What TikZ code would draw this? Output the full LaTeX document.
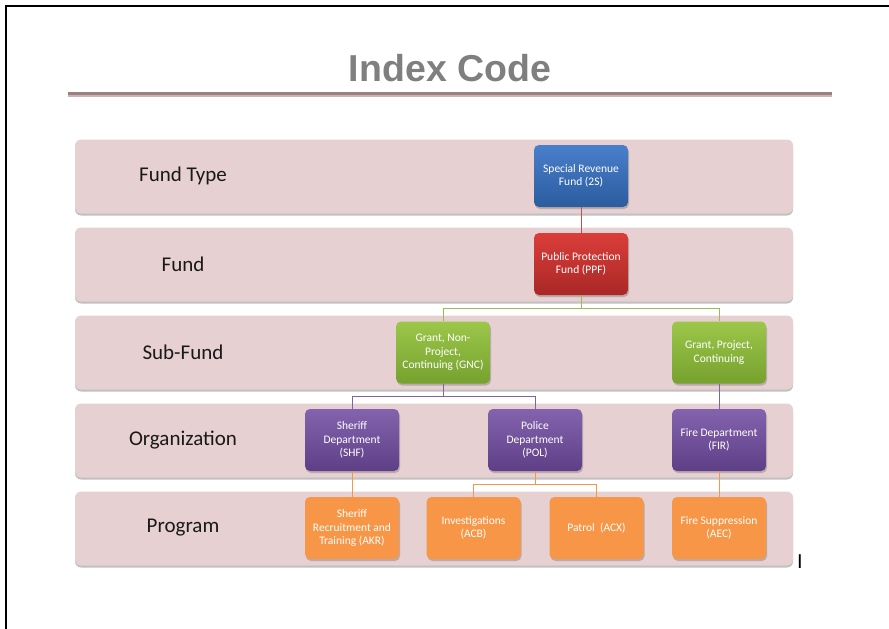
\documentclass[tikz,border=0pt]{standalone}
\usepackage{fontspec}
\setmainfont{Carlito}
\newfontfamily\titlefont{Liberation Sans}
\usetikzlibrary{shadows}
\definecolor{bandfill}{HTML}{E6D0D1}
\definecolor{titlegray}{HTML}{7F7F7F}
\definecolor{rulea}{HTML}{9C7F80}
\definecolor{ruleb}{HTML}{C9B3B4}
\definecolor{bluetop}{HTML}{4A7FCB}
\definecolor{bluebot}{HTML}{2A5C9E}
\definecolor{redtop}{HTML}{DA3E3A}
\definecolor{redbot}{HTML}{A92826}
\definecolor{greentop}{HTML}{9CC74A}
\definecolor{greenbot}{HTML}{76A12E}
\definecolor{purptop}{HTML}{8463AE}
\definecolor{purpbot}{HTML}{5E3F86}
\definecolor{orangefill}{HTML}{F79646}
\definecolor{redline}{HTML}{C0504D}
\definecolor{greenline}{HTML}{9BBB59}
\definecolor{purpline}{HTML}{8064A2}
\definecolor{orangeline}{HTML}{F79646}
\tikzset{
  band/.style={draw=none, fill=bandfill, rounded corners=6pt, minimum width=718pt, minimum height=74pt, inner sep=0pt,
    drop shadow={shadow xshift=0pt, shadow yshift=-2pt, opacity=0.45, fill=black!55}},
  rowlabel/.style={font=\fontsize{21}{24}\selectfont, text=black!90, inner sep=0pt},
  box/.style={rounded corners=5pt, minimum width=94pt, minimum height=62pt, inner sep=1pt, align=center,
    text=white, font=\fontsize{11.5}{13.5}\selectfont,
    drop shadow={shadow xshift=1pt, shadow yshift=-2pt, opacity=0.35, fill=black!60}},
  bluebox/.style={box, top color=bluetop, bottom color=bluebot},
  redbox/.style={box, top color=redtop, bottom color=redbot},
  greenbox/.style={box, top color=greentop, bottom color=greenbot},
  purpbox/.style={box, top color=purptop, bottom color=purpbot},
  orangebox/.style={box, fill=orangefill},
  conn/.style={line width=0.9pt}
}
\begin{document}
\begin{tikzpicture}[x=1pt,y=-1pt]
\useasboundingbox (0,0) rectangle (889,629);
% frame
\coordinate (fr1) at (6,629);
\coordinate (fr2) at (6,6);
\coordinate (fr3) at (889,6);
\draw[line width=2.4pt, line cap=rect] (fr1) -- (fr2) -- (fr3);
% title
\node[font=\titlefont\bfseries\fontsize{37.5}{40}\selectfont, text=titlegray, inner sep=0pt] (title) at (450,68) {Index Code};
\coordinate (rl) at (68,93.5);
\coordinate (rr) at (832,93.5);
\draw[line width=2.4pt, rulea] (rl) -- (rr);
\draw[line width=1.4pt, ruleb] ([yshift=-2.4pt]rl) -- ([yshift=-2.4pt]rr);
% bands
\node[band] (b1) at (434,176.5) {};
\node[band] (b2) at (434,264.5) {};
\node[band] (b3) at (434,352.5) {};
\node[band] (b4) at (434,440.5) {};
\node[band] (b5) at (434,528.5) {};
\node[rowlabel] (l1) at (183,176) {Fund Type};
\node[rowlabel] (l2) at (183,264) {Fund};
\node[rowlabel] (l3) at (183,352) {Sub-Fund};
\node[rowlabel] (l4) at (183,440) {Organization};
\node[rowlabel] (l5) at (183,528) {Program};
% boxes
\node[bluebox] (srf) at (581,176) {Special Revenue\\Fund (2S)};
\node[redbox] (ppf) at (581,264) {Public Protection\\Fund (PPF)};
\node[greenbox] (gnc) at (443,352.5) {Grant, Non-\\Project,\\Continuing (GNC)};
\node[greenbox] (gpc) at (719,352.5) {Grant, Project,\\Continuing};
\node[purpbox] (shf) at (352,440) {Sheriff\\Department\\(SHF)};
\node[purpbox] (pol) at (535,440) {Police\\Department\\(POL)};
\node[purpbox] (fir) at (719,440) {Fire Department\\(FIR)};
\node[orangebox] (akr) at (352,528) {Sheriff\\Recruitment and\\Training (AKR)};
\node[orangebox] (acb) at (473.5,528) {Investigations\\(ACB)};
\node[orangebox] (acx) at (596.5,528) {Patrol~~(ACX)};
\node[orangebox] (aec) at (719,528) {Fire Suppression\\(AEC)};
% connectors
\draw[conn, redline] (srf.south) -- (ppf.north);
\draw[conn, greenline] (ppf.south) -- ++(0,13) -| (gnc.north);
\draw[conn, greenline] (ppf.south) -- ++(0,13) -| (gpc.north);
\draw[conn, purpline] (gnc.south) -- ++(0,12.5) -| (shf.north);
\draw[conn, purpline] (gnc.south) -- ++(0,12.5) -| (pol.north);
\draw[conn, purpline] (gpc.south) -- (fir.north);
\draw[conn, orangeline] (shf.south) -- (akr.north);
\draw[conn, orangeline] (pol.south) -- ++(0,13) -| (acb.north);
\draw[conn, orangeline] (pol.south) -- ++(0,13) -| (acx.north);
\draw[conn, orangeline] (fir.south) -- (aec.north);
% cursor mark
\node[font=\titlefont\fontsize{20}{22}\selectfont, inner sep=0pt] (cur) at (800,562) {I};
\end{tikzpicture}
\end{document}
